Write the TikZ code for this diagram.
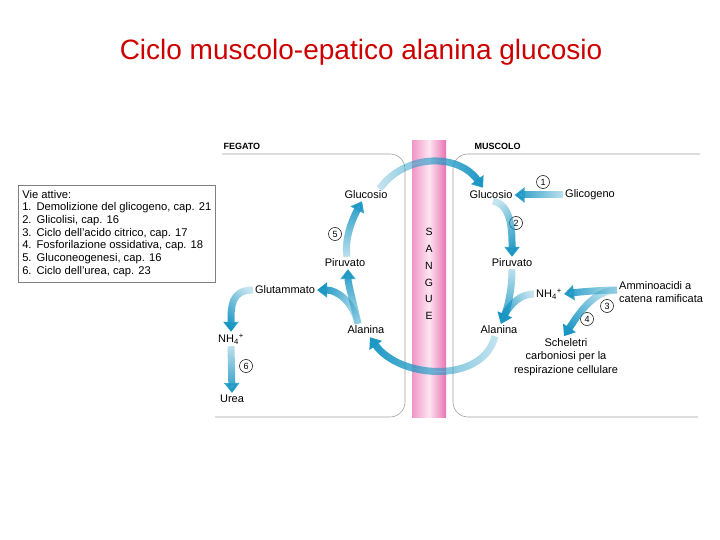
\documentclass[tikz,border=0pt]{standalone}
\usepackage{fontspec}
\setmainfont{Liberation Sans}
\usetikzlibrary{arrows.meta,fadings}

\definecolor{titlered}{RGB}{204,0,0}
\definecolor{flowblue}{RGB}{25,150,195}
\definecolor{vesselside}{RGB}{240,150,198}
\definecolor{vesselmid}{RGB}{255,228,241}
\definecolor{vesselright}{RGB}{232,115,180}
\definecolor{wallgray}{RGB}{160,160,160}

\tikzfading[name=flowfade, left color=transparent!75, right color=transparent!0]

\tikzset{
  metab/.style={font=\fontsize{11}{13.5}\selectfont, inner sep=2pt},
  num/.style={circle, draw, line width=0.5pt, inner sep=0pt, minimum size=13pt, font=\fontsize{9}{9}\selectfont},
  organ/.style={font=\bfseries\fontsize{9}{9}\selectfont, anchor=west},
  wall/.style={draw=wallgray, line width=0.6pt, rounded corners=15pt},
  flow/.style={line width=7pt, draw=flowblue, -{Triangle[width=15pt,length=10pt]},
    path fading=flowfade, fading angle=#1},
  flow/.default=0
}

\begin{document}
\begin{tikzpicture}[x=1pt,y=-1pt]
  \useasboundingbox[fill=white] (0,0) rectangle (720,540);

  % Titolo
  \node[font=\fontsize{28}{32}\selectfont, text=titlered] (title) at (361,52)
    {Ciclo muscolo-epatico alanina glucosio};

  % Legenda
  \node[draw=gray, line width=0.5pt, anchor=north west, inner sep=4pt,
    font=\fontsize{11.2}{12.7}\selectfont] (legend) at (18,185)
    {\begin{tabular}{@{}l@{\hspace{5pt}}l@{}}
      \multicolumn{2}{@{}l@{}}{Vie attive:}\\
      1. & Demolizione del glicogeno, cap. 21\\
      2. & Glicolisi, cap. 16\\
      3. & Ciclo dell'acido citrico, cap. 17\\
      4. & Fosforilazione ossidativa, cap. 18\\
      5. & Gluconeogenesi, cap. 16\\
      6. & Ciclo dell'urea, cap. 23
    \end{tabular}};

  % Sangue
  \shade[left color=vesselside, right color=vesselright, middle color=vesselmid]
    (412,141) rectangle (446,417);
  \node[font=\fontsize{10.5}{16.8}\selectfont, align=center] (sangue) at (429,274)
    {S\\A\\N\\G\\U\\E};

  % Compartimenti
  \draw[wall] (222,154) -- (405,154) -- (405,417) -- (215,417);
  \draw[wall] (700,154) -- (453,154) -- (453,417) -- (698,417);
  \node[organ] (fegato) at (220,146) {FEGATO};
  \node[organ] (muscolo) at (471,146) {MUSCOLO};

  % Fegato
  \node[metab] (glucL) at (366,195) {Glucosio};
  \node[metab] (piruL) at (345,263) {Piruvato};
  \node[metab] (alaL) at (366,330) {Alanina};
  \node[metab] (glut) at (285,290) {Glutammato};
  \node[metab] (nhL) at (231,339) {NH\textsubscript{4}\textsuperscript{+}};
  \node[metab] (urea) at (232,399) {Urea};
  \node[num] (n5) at (335,234) {5};
  \node[num] (n6) at (246,366) {6};

  % Muscolo
  \node[metab] (glucM) at (491,195) {Glucosio};
  \node[metab] (glic) at (590,195) {Glicogeno};
  \node[metab] (piruM) at (512,263) {Piruvato};
  \node[metab] (nhM) at (549,294) {NH\textsubscript{4}\textsuperscript{+}};
  \node[metab] (alaM) at (499,330) {Alanina};
  \node[metab, align=left, anchor=west] (amino) at (617,292)
    {Amminoacidi a\\catena ramificata};
  \node[metab, align=center] (schel) at (566,357)
    {Scheletri\\carboniosi per la\\respirazione cellulare};
  \node[num] (n1) at (543,182) {1};
  \node[num] (n2) at (516,223) {2};
  \node[num] (n3) at (607,306) {3};
  \node[num] (n4) at (587,319) {4};

  % Frecce tra gli organi
  \draw[flow=0, preaction={draw=white}] ([xshift=-10pt]glucL.north east)
    .. controls +(25,-35) and +(-25,-35) .. ([xshift=-8pt,yshift=1pt]glucM.north);
  \draw[flow=180, preaction={draw=white}] ([xshift=-4pt]alaM.south)
    .. controls +(-12,48) and +(30,42) .. ([xshift=4pt,yshift=-1pt]alaL.south);

  % Frecce nel fegato
  \draw[flow=90] ([xshift=2pt]piruL.north)
    .. controls +(-3,-20) and +(-8,15) .. ([xshift=-4pt]glucL.south);
  \draw[flow=90] ([xshift=-8pt]alaL.north)
    .. controls +(-3,-15) and +(0,15) .. ([xshift=3pt]piruL.south);
  \draw[flow=160] ([xshift=-8pt]alaL.north)
    .. controls +(-5,-22) and +(20,0) .. (glut.east);
  \draw[flow=-120] (glut.west)
    .. controls +(-22,0) and +(0,-25) .. (nhL.north);
  \draw[flow=-90] (nhL.south) -- (urea.north);

  % Frecce nel muscolo
  \draw[flow=180] (glic.west) -- (glucM.east);
  \draw[flow=-70] ([xshift=2pt]glucM.south)
    .. controls +(20,3) and +(0,-20) .. (piruM.north);
  \draw[flow=-90] (piruM.south)
    .. controls +(0,25) and +(5,-12) .. ([xshift=2pt]alaM.north);
  \draw[flow=-150] (nhM.west)
    .. controls +(-18,0) and +(5,-12) .. ([xshift=2pt]alaM.north);
  \draw[flow=180] ([yshift=2pt]amino.west)
    .. controls +(-15,0) and +(15,-2) .. (nhM.east);
  \draw[flow=-135] ([yshift=2pt]amino.west)
    .. controls +(-25,0) and +(12,-18) .. ([xshift=-2pt]schel.north);

\end{tikzpicture}
\end{document}
